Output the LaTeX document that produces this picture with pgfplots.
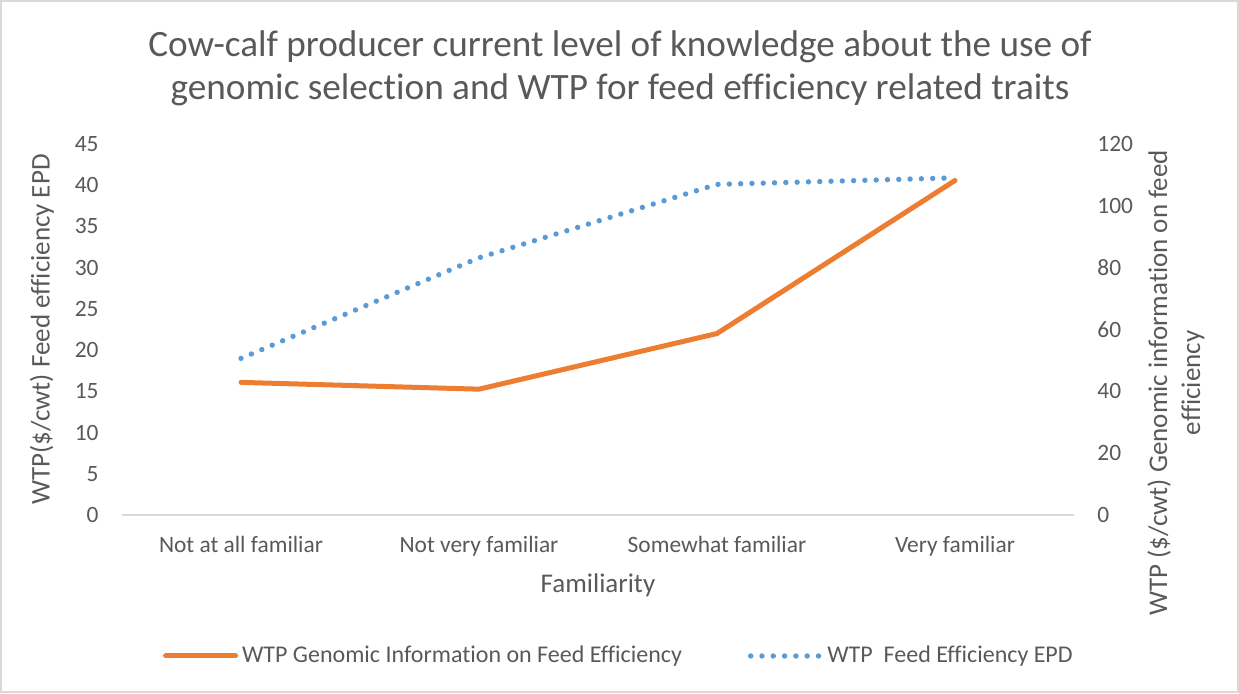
\documentclass[border=0pt]{standalone}
\usepackage{pgfplots}
\usepackage{pgfplotstable}
\pgfplotsset{compat=1.18}
\usepackage{fontspec}
\setmainfont[Ligatures=CommonOff]{Carlito}
\definecolor{cOrange}{HTML}{ED7D31}
\definecolor{cBlue}{HTML}{5B9BD5}
\definecolor{cText}{HTML}{595959}
\definecolor{cAxis}{HTML}{D9D9D9}

\pgfplotstableread{
x wtpgen wtpepd
0 42.9 19.0
1 40.7 31.2
2 58.7 40.1
3 108.2 40.9
}\datatable

\pgfplotsset{
  mybase/.style={
    scale only axis, width=476pt, height=185.5pt,
    at={(61pt,89pt)}, anchor=south west,
    xmin=-0.5, xmax=3.5, ymin=0,
    major tick length=0pt,
    /pgf/number format/assume math mode=true,
    ticklabel style={text=cText, font=\fontsize{11.7}{14}\selectfont},
    y axis line style={draw=none},
  },
  bluestyle/.style={cBlue, line width=2.7pt, line cap=round, dash pattern=on 0pt off 5.65pt},
  orangestyle/.style={cOrange, line width=2.5pt, line cap=round, line join=round},
}

\begin{document}
\begin{tikzpicture}[x=1pt,y=1pt]
\useasboundingbox (0,0) rectangle (619.5,346.5);
\draw[cAxis, line width=0.75pt] (0.4,0.4) rectangle (619.1,346.1);
\node[text=cText, font=\fontsize{18.6}{21.5}\selectfont, align=center] at (310,312.5)
  {Cow-calf producer current level of knowledge about the use of\\genomic selection and WTP for feed efficiency related traits};

\begin{axis}[mybase,
  ymax=45, ytick={0,5,...,45},
  axis y line*=left, axis x line*=bottom,
  x axis line style={cAxis, line width=1pt, -},
  xtick={0,1,2,3},
  xticklabels={Not at all familiar, Not very familiar, Somewhat familiar, Very familiar},
  xticklabel style={anchor=base, yshift=-18.5pt},
  yticklabel style={anchor=east, inner xsep=0pt, xshift=-11.5pt},
  xlabel={Familiarity},
  ylabel={WTP(\$/cwt) Feed efficiency EPD},
  every axis x label/.style={at={(axis description cs:0.5,-0.189)}, anchor=center, text=cText, font=\fontsize{13.5}{16.5}\selectfont},
  every axis y label/.style={at={(axis description cs:-0.084,0.5)}, rotate=90, anchor=center, text=cText, font=\fontsize{13.5}{16.5}\selectfont},
]
\addplot[bluestyle] table[x=x, y=wtpepd] {\datatable};
\end{axis}

\begin{axis}[mybase,
  ymax=120, ytick={0,20,...,120},
  axis y line*=right, axis x line=none,
  xtick=\empty,
  yticklabel style={anchor=west, inner xsep=0pt, xshift=11.5pt},
  ylabel={WTP (\$/cwt) Genomic information on feed\\efficiency},
  every axis y label/.style={at={(axis description cs:1.107,0.356)}, rotate=90, anchor=center, align=center, text=cText, font=\fontsize{13.5}{16.5}\selectfont},
  legend columns=2,
  legend style={at={(axis description cs:0.523,-0.38)}, anchor=center, draw=none, fill=none,
    text=cText, font=\fontsize{12}{14}\selectfont,
    /tikz/every even column/.append style={column sep=31pt}},
  legend image code/.code={\draw[#1] (0pt,0pt) -- (35pt,0pt);},
]
\addplot[orangestyle] table[x=x, y=wtpgen] {\datatable};
\addlegendentry{WTP Genomic Information on Feed Efficiency}
\addlegendimage{bluestyle}
\addlegendentry{WTP\ \ Feed Efficiency EPD}
\end{axis}
\end{tikzpicture}
\end{document}
